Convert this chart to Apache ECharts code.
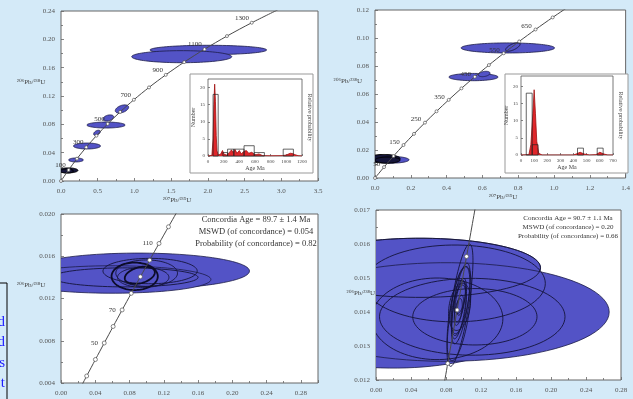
<!DOCTYPE html>
<html><head><meta charset="utf-8">
<script src="https://cdn.jsdelivr.net/npm/echarts@6/dist/echarts.min.js"></script>
<style>html,body{margin:0;padding:0;background:#d4eaf8;}#c{width:633px;height:399px;}</style>
</head><body><div id="c"></div>
<script>
const SERIF = '"Liberation Serif","DejaVu Serif",serif';

// ---------- Panel A (top-left) concordia points (age Ma, 207Pb/235U, 206Pb/238U)
const concA_age = [0,100,200,300,400,500,600,700,800,900,1000,1100,1200,1300,1400];
const concA_x = [0,0.1035,0.2177,0.3437,0.4828,0.6362,0.8055,0.9924,1.1987,1.4264,1.6774,1.9543,2.2602,2.5978,2.9701];
const concA_y = [0,0.01563,0.03151,0.04764,0.06402,0.08065,0.09754,0.11470,0.13213,0.14983,0.16782,0.18606,0.20460,0.22343,0.24256];
const concA_lab = [100,300,500,700,900,1100,1300];

// ---------- Panel B (top-right)
const concB_age = [0,50,100,150,200,250,300,350,400,450,500,550,600,650,700,750];
const concB_x = [0,0.0505,0.1035,0.1592,0.2177,0.2792,0.3437,0.4116,0.4828,0.5576,0.6362,0.7188,0.8055,0.8968,0.9924,1.0930];
const concB_y = [0,0.00779,0.01563,0.02354,0.03151,0.03954,0.04764,0.05580,0.06402,0.07230,0.08065,0.08907,0.09754,0.10609,0.11470,0.12338];
const concB_lab = [50,150,250,350,450,550,650];

// ---------- Panel C (bottom-left)
const concC_age = [20,30,40,50,60,70,80,90,100,110,120,130];
const concC_x = [0.01989,0.02999,0.04018,0.05048,0.06087,0.07137,0.08198,0.09268,0.10350,0.11442,0.12545,0.13659];
const concC_y = [0.003107,0.004665,0.006224,0.007786,0.009351,0.010918,0.012487,0.014059,0.015633,0.017210,0.018789,0.020371];
const concC_lab = [50,70,110];

// ---------- Panel D (bottom-right)
const concD_age = [70,80,90,100,110];
const concD_x = [0.07137,0.08198,0.09268,0.10350,0.11442];
const concD_y = [0.010918,0.012487,0.014059,0.015633,0.017210];
const concD_lab = [];

// ---------- Error ellipses: [x, y, half-width x, half-width y, tilt deg]
const ellA_fill = [
  [2.006,0.1850,0.794,0.0066,0],
  [1.644,0.1755,0.681,0.0085,0],
  [0.613,0.0790,0.260,0.0042,0],
  [0.645,0.0890,0.075,0.0040,-15],
  [0.830,0.1017,0.095,0.0050,-20],
  [0.490,0.0680,0.050,0.0030,-30],
  [0.354,0.0494,0.184,0.0042,0],
  [0.204,0.0297,0.100,0.0028,0]
];
const ellA_dark = [[0.10,0.0150,0.13,0.0035,0],[0.08,0.0140,0.09,0.0028,0]];

const ellB_fill = [
  [0.742,0.0929,0.261,0.0036,0],
  [0.550,0.0721,0.137,0.0026,0],
  [0.610,0.0743,0.033,0.0018,-10],
  [0.090,0.0130,0.100,0.0024,0]
];
const ellB_open = [[0.770,0.0936,0.044,0.0021,-25]];
const ellB_dark = [[0.050,0.0138,0.090,0.0030,0],[0.070,0.0128,0.070,0.0022,0]];

const ellC_fill = [
  [0.090,0.01460,0.130,0.00170,0],
  [0.060,0.01380,0.115,0.00130,0]
];
const ellC_open = [
  [0.100,0.01440,0.036,0.00125,0],
  [0.104,0.01460,0.055,0.00120,0],
  [0.096,0.01400,0.030,0.00095,0],
  [0.075,0.01400,0.085,0.00090,0]
];
const ellC_thick = [
  [0.086,0.01410,0.027,0.00130,0],
  [0.092,0.01420,0.018,0.00075,-15]
];

const ellD_fill = [
  [0.050,0.01530,0.138,0.00087,0],
  [0.020,0.01350,0.140,0.00115,0],
  [0.080,0.01400,0.1865,0.00145,0]
];
const ellD_open = [
  [0.110,0.01386,0.106,0.00113,0],
  [0.113,0.01386,0.071,0.00083,0],
  [0.090,0.01484,0.1035,0.00113,0],
  [0.070,0.01380,0.075,0.00120,0],
  [0.050,0.01530,0.138,0.00087,0]
];
const ellD_narrow = [
  [0.0960,0.01420,0.0100,0.00182,9],
  [0.0970,0.01425,0.0080,0.00120,9],
  [0.0950,0.01410,0.0065,0.00090,9],
  [0.0960,0.01430,0.0050,0.00060,9],
  [0.0940,0.01400,0.0040,0.00040,9],
  [0.0955,0.01415,0.0120,0.00070,9],
  [0.0965,0.01435,0.0090,0.00100,9],
  [0.0945,0.01405,0.0075,0.00075,9],
  [0.0958,0.01445,0.0060,0.00050,9],
  [0.0950,0.01395,0.0110,0.00140,9],
  [0.0962,0.01420,0.0035,0.00030,9]
];

// ---------- Inset histograms (age bins, counts) and probability curves
const histA_start = [65,190,250,330,460,590,960];
const histA_end   = [130,250,330,460,590,720,1090];
const histA_count = [18,1,2,2,3,1,2];
const probA_age = [0,50,65,75,85,95,105,115,130,160,185,205,240,280,300,320,345,370,400,425,455,490,520,560,600,650,700,800,950,1000,1050,1080,1110,1150,1200];
const probA_val = [0,0.2,5,15,21,16,6,1.5,0.3,0.5,1.6,0.5,0.3,1.2,1.8,1.0,1.9,0.8,1.6,0.6,1.3,1.6,0.8,1.1,0.3,0.6,0.1,0.05,0.1,0.3,0.8,0.7,0.4,0.1,0];

const histB_start = [40,85,430,580];
const histB_end   = [85,130,475,625];
const histB_count = [18,3,2,2];
const probB_age = [0,60,75,90,100,110,120,135,160,400,420,450,480,520,570,600,630,660,700];
const probB_val = [0,0.1,3,12,19,12,4,0.5,0,0,0.3,0.8,0.3,0,0.1,0.8,0.3,0,0];

const statsC = ['Concordia Age = 89.7 \u00b1 1.4 Ma','MSWD (of concordance) = 0.054','Probability (of concordance) = 0.82'];
const statsD = ['Concordia Age = 90.7 \u00b1 1.1 Ma','MSWD (of concordance) = 0.20','Probability (of concordance) = 0.66'];

// ---------------------------------------------------------------
const chart = echarts.init(document.getElementById('c'), null, {renderer:'canvas'});

function ellRender(style){
  return function(params, api){
    const c = api.coord([api.value(0), api.value(1)]);
    const s = api.size([api.value(2), api.value(3)]);
    const ang = api.value(4) * Math.PI / 180;
    const pts = [];
    const N = 90;
    for (let i = 0; i < N; i++) {
      const t = i / N * Math.PI * 2;
      const px = s[0] * Math.cos(t), py = s[1] * Math.sin(t);
      pts.push([c[0] + px * Math.cos(ang) - py * Math.sin(ang), c[1] + px * Math.sin(ang) + py * Math.cos(ang)]);
    }
    return {type:'polygon', shape:{points:pts}, style:style};
  };
}
const FILL = {fill:'#5353c6', stroke:'#1c1c48', lineWidth:0.8};
const OPEN = {fill:'none', stroke:'#14143a', lineWidth:0.9};
const THICK = {fill:'none', stroke:'#0c0c28', lineWidth:1.8};
const DARK = {fill:'#16163a', stroke:'#000', lineWidth:1};

function ellSeries(gi, data, style, z){
  return {type:'custom', xAxisIndex:gi, yAxisIndex:gi, clip:true, z:z||2, silent:true,
    renderItem: ellRender(style), data:data, animation:false};
}

function concSeries(gi, ages, xs, ys, labs, symSize, labCfg){
  return {type:'line', xAxisIndex:gi, yAxisIndex:gi, z:6, clip:true, smooth:0.3,
    symbol:'circle', symbolSize:symSize, showSymbol:true, silent:true,
    itemStyle:{color:'#fff', borderColor:'#555', borderWidth:0.7},
    lineStyle:{color:'#4a4a4a', width:1},
    label:Object.assign({fontSize:7, fontFamily:SERIF, color:'#333'}, labCfg),
    data: ages.map((a,i)=>({value:[xs[i], ys[i]], label:{show: labs.indexOf(a) >= 0, formatter: String(a)}})),
    animation:false};
}

function histSeries(gi, st, en, ct){
  return {type:'custom', xAxisIndex:gi, yAxisIndex:gi, z:7, silent:true,
    encode:{x:[0,1], y:2},
    data: st.map((s,i)=>[s, en[i], ct[i]]),
    renderItem: function(params, api){
      const p0 = api.coord([api.value(0), 0]);
      const p1 = api.coord([api.value(1), api.value(2)]);
      return {type:'rect', shape:{x:p0[0], y:p1[1], width:p1[0]-p0[0], height:p0[1]-p1[1]},
        style:{fill:'none', stroke:'#222', lineWidth:0.7}};
    }, animation:false};
}
function probSeries(gi, ages, vals){
  return {type:'line', xAxisIndex:gi, yAxisIndex:gi, z:6, showSymbol:false, silent:true,
    lineStyle:{color:'#a01010', width:0.8}, areaStyle:{color:'#e0262a', opacity:1},
    data: ages.map((a,i)=>[a, vals[i]]), animation:false};
}

const tickStyle = {color:'#666', width:0.8};
function mainAxis(gi, min, max, interval, dec, margin, hideMax){
  return {type:'value', gridIndex:gi, min:min, max:max, interval:interval, scale:true,
    axisLine:{show:false}, splitLine:{show:false},
    axisTick:{show:true, inside:true, length:3, lineStyle:tickStyle},
    minorTick:{show:true, splitNumber:2, length:2, lineStyle:tickStyle},
    axisLabel:{fontSize:7, color:'#555', fontFamily:SERIF, margin:margin,
      showMaxLabel: !hideMax, formatter: v => Number(v).toFixed(dec)}};
}
function insetX(gi, max, interval){
  return {type:'value', gridIndex:gi, min:0, max:max, interval:interval, z:5,
    axisLine:{show:false}, splitLine:{show:false},
    axisTick:{inside:true, length:2, lineStyle:tickStyle},
    axisLabel:{fontSize:5, color:'#444', fontFamily:SERIF, margin:3, formatter: v => String(v)},
    name:'Age Ma', nameLocation:'middle', nameGap:9,
    nameTextStyle:{fontSize:6, color:'#444', fontFamily:SERIF}};
}
function insetY(gi, max){
  return {type:'value', gridIndex:gi, min:0, max:max, interval:5, z:5,
    axisLine:{show:false}, splitLine:{show:false},
    axisTick:{inside:true, length:2, lineStyle:tickStyle},
    axisLabel:{fontSize:5, color:'#444', fontFamily:SERIF, margin:3, showMaxLabel:false, formatter: v => String(v)},
    name:'Number', nameLocation:'middle', nameGap:9,
    nameTextStyle:{fontSize:6, color:'#444', fontFamily:SERIF}};
}
function insetYR(gi, max){
  return {type:'value', gridIndex:gi, min:0, max:max, position:'right', z:5,
    axisLine:{show:false}, splitLine:{show:false}, axisTick:{show:false}, axisLabel:{show:false},
    name:'Relative probability', nameLocation:'middle', nameGap:5, nameRotate:-90,
    nameTextStyle:{fontSize:6, color:'#444', fontFamily:SERIF}};
}

const gridMain = {show:true, backgroundColor:'#fff', borderColor:'#666', borderWidth:1};
const gridInset = {show:true, backgroundColor:'transparent', borderColor:'#555', borderWidth:0.8, z:4};

function txt(x, y, s, size, color, align, rot){
  return {type:'text', x:x, y:y, rotation: rot||0, z:20, silent:true,
    style:{text:s, fill:color||'#444', font: size + 'px ' + SERIF, align: align||'center', verticalAlign:'middle'}};
}

const graphics = [
  {type:'rect', z:3, silent:true, shape:{x:190, y:74, width:123, height:99}, style:{fill:'#fff', stroke:'#999', lineWidth:1}},
  {type:'rect', z:3, silent:true, shape:{x:505, y:74, width:123, height:99}, style:{fill:'#fff', stroke:'#999', lineWidth:1}},
  txt(31, 82, '\u00b2\u2070\u2076Pb/\u00b2\u00b3\u2078U', 7),
  txt(177, 200, '\u00b2\u2070\u2077Pb/\u00b2\u00b3\u2075U', 7),
  txt(362, 81, '\u00b2\u2070\u2076Pb/\u00b2\u00b3\u2078U', 7, '#444', 'right'),
  txt(503, 197, '\u00b2\u2070\u2077Pb/\u00b2\u00b3\u2075U', 7),
  txt(31, 285, '\u00b2\u2070\u2076Pb/\u00b2\u00b3\u2078U', 7),
  txt(375, 293, '\u00b2\u2070\u2076Pb/\u00b2\u00b3\u2078U', 7, '#444', 'right'),
  {type:'rect', z:20, silent:true, shape:{x:-5, y:283, width:12, height:130}, style:{fill:'none', stroke:'#000', lineWidth:1}}
];
statsC.forEach((s,i)=>graphics.push(txt(256, 220 + i*12, s, 8.5, '#333')));
statsD.forEach((s,i)=>graphics.push(txt(568, 218 + i*9, s, 7, '#333')));
const sideLetters = ['d','d','s','t','c'];
const sideY = [322,342,363,383,403];
sideLetters.forEach((s,i)=>graphics.push(txt(5, sideY[i], s, 15, '#1f1fff', 'right')));

const option = {
  backgroundColor:'#d4eaf8',
  animation:false,
  grid:[
    Object.assign({left:61, top:11, width:257, height:170}, gridMain),
    Object.assign({left:375, top:10, width:255, height:168}, gridMain),
    Object.assign({left:61, top:214, width:257, height:169}, gridMain),
    Object.assign({left:376, top:210, width:245, height:170}, gridMain),
    Object.assign({left:208, top:79, width:94, height:77}, gridInset),
    Object.assign({left:521, top:76, width:92, height:79}, gridInset)
  ],
  xAxis:[
    mainAxis(0, 0, 3.5, 0.5, 1, 7, false),
    mainAxis(1, 0, 1.4, 0.2, 1, 7, false),
    mainAxis(2, 0, 0.30, 0.04, 2, 7, true),
    mainAxis(3, 0, 0.28, 0.04, 2, 7, false),
    insetX(4, 1200, 200),
    insetX(5, 700, 100)
  ],
  yAxis:[
    mainAxis(0, 0, 0.24, 0.04, 2, 6, false),
    mainAxis(1, 0, 0.12, 0.02, 2, 6, false),
    mainAxis(2, 0.004, 0.020, 0.004, 3, 6, false),
    mainAxis(3, 0.012, 0.017, 0.001, 3, 6, false),
    insetY(4, 22.5),
    insetY(5, 23),
    insetYR(4, 22.5),
    insetYR(5, 23)
  ],
  graphic: graphics,
  series:[
    ellSeries(0, ellA_fill, FILL),
    ellSeries(0, ellA_dark, DARK, 3),
    concSeries(0, concA_age, concA_x, concA_y, concA_lab, 3, {position:'left', distance:1, offset:[0,-5]}),

    ellSeries(1, ellB_fill, FILL),
    ellSeries(1, ellB_open, OPEN, 3),
    ellSeries(1, ellB_dark, DARK, 3),
    concSeries(1, concB_age, concB_x, concB_y, concB_lab, 3, {position:'left', distance:2, offset:[0,-3]}),

    ellSeries(2, ellC_fill, FILL),
    ellSeries(2, ellC_open, OPEN, 3),
    ellSeries(2, ellC_thick, THICK, 4),
    concSeries(2, concC_age, concC_x, concC_y, concC_lab, 4, {position:'left', distance:4, offset:[0,0]}),

    ellSeries(3, ellD_fill, FILL),
    ellSeries(3, ellD_open, OPEN, 3),
    ellSeries(3, ellD_narrow, OPEN, 4),
    concSeries(3, concD_age, concD_x, concD_y, concD_lab, 4, {position:'left', distance:4}),

    probSeries(4, probA_age, probA_val),
    histSeries(4, histA_start, histA_end, histA_count),
    probSeries(5, probB_age, probB_val),
    histSeries(5, histB_start, histB_end, histB_count)
  ]
};
chart.setOption(option);
</script></body></html>
